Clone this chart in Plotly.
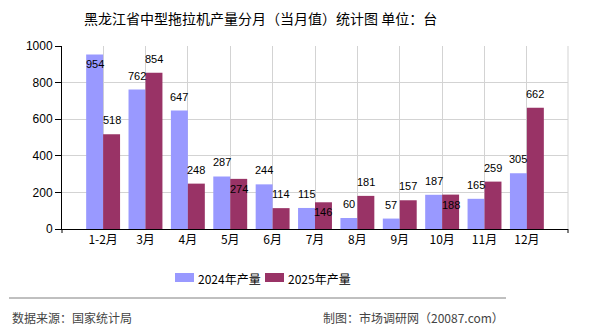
import plotly.graph_objects as go

categories = ["1-2月", "3月", "4月", "5月", "6月", "7月", "8月", "9月", "10月", "11月", "12月"]
values_2024 = [954, 762, 647, 287, 244, 115, 60, 57, 187, 165, 305]
values_2025 = [518, 854, 248, 274, 114, 146, 181, 157, 188, 259, 662]
series_names = ["2024年产量", "2025年产量"]
y_ticks = [0, 200, 400, 600, 800, 1000]
# labels that are drawn just inside the bar top (collision avoidance in the original)
inside_2024 = [True, False, False, False, False, False, False, False, False, False, False]
inside_2025 = [False, False, False, True, False, True, False, False, True, False, False]

C24 = "#9999FF"
C25 = "#993366"
W, H = 590, 330
L, R, T, B = 62, 568, 46, 229
FONT = "Liberation Sans, Noto Sans CJK SC, sans-serif"
CJK = "Noto Sans CJK SC, sans-serif"


def px(x):
    return (x - L) / (R - L)


def py(y):
    return (B - y) / (B - T)


fig = go.Figure()
fig.add_trace(go.Bar(x=categories, y=values_2024, name=series_names[0], marker_color=C24,
                     marker_line_width=0, showlegend=False))
fig.add_trace(go.Bar(x=categories, y=values_2025, name=series_names[1], marker_color=C25,
                     marker_line_width=0, showlegend=False))

annotations = []
for vals, inside, off in ((values_2024, inside_2024, -0.2), (values_2025, inside_2025, 0.2)):
    for i, v in enumerate(vals):
        annotations.append(dict(
            x=i + off, y=v, xref="x", yref="y", text=str(v), showarrow=False,
            font=dict(family=FONT, size=11, color="#000000"),
            yanchor="top" if inside[i] else "bottom",
            yshift=-2 if inside[i] else 6,
        ))

# title
annotations.append(dict(x=px(260), y=py(18), xref="paper", yref="paper",
                        text="黑龙江省中型拖拉机产量分月（当月值）统计图 单位：台",
                        showarrow=False, font=dict(family=CJK, size=14, color="#000000"),
                        xanchor="center", yanchor="middle"))
# legend (manual)
shapes = []
for sx, col, name in ((175, C24, series_names[0]), (265, C25, series_names[1])):
    shapes.append(dict(type="rect", xref="paper", yref="paper", x0=px(sx), x1=px(sx + 19),
                       y0=py(273), y1=py(282), fillcolor=col, line_width=0))
    annotations.append(dict(x=px(sx + 21), y=py(278), xref="paper", yref="paper", text=name,
                            showarrow=False, font=dict(family=CJK, size=12, color="#000000"),
                            xanchor="left", yanchor="middle"))
# footer
shapes.append(dict(type="line", xref="paper", yref="paper", x0=px(9), x1=px(506),
                   y0=py(298), y1=py(298), line=dict(color="#808080", width=1)))
annotations.append(dict(x=px(10), y=py(317), xref="paper", yref="paper", text="数据来源：国家统计局",
                        showarrow=False, font=dict(family=CJK, size=12, color="#444444"),
                        xanchor="left", yanchor="middle"))
annotations.append(dict(x=px(506), y=py(317), xref="paper", yref="paper",
                        text="制图：市场调研网（20087.com）",
                        showarrow=False, font=dict(family=CJK, size=12, color="#444444"),
                        xanchor="right", yanchor="middle"))
# right border of plot area
shapes.append(dict(type="line", xref="paper", yref="paper", x0=1, x1=1, y0=0, y1=1,
                   line=dict(color="#d3d3d3", width=1)))
# end ticks on the x axis
for xe in (0, 1):
    shapes.append(dict(type="line", xref="paper", yref="paper", x0=xe, x1=xe, y0=0, y1=py(233),
                       line=dict(color="#000000", width=1)))

fig.update_layout(
    width=W, height=H,
    margin=dict(l=L, r=W - R, t=T, b=H - B),
    paper_bgcolor="white", plot_bgcolor="white",
    barmode="group", bargap=0.2, bargroupgap=0,
    annotations=annotations, shapes=shapes,
    xaxis=dict(type="category", range=[-0.97, 10.97], showgrid=True, gridcolor="#d3d3d3",
               showline=True, linecolor="#000000", linewidth=1, ticks="",
               tickfont=dict(family=CJK, size=12, color="#000000"), fixedrange=True),
    yaxis=dict(range=[0, 1000], tickvals=y_ticks, showgrid=True, gridcolor="#d3d3d3",
               showline=True, linecolor="#000000", linewidth=1, ticks="outside", ticklen=6,
               tickcolor="#000000", tickfont=dict(family=FONT, size=12, color="#000000"),
               zeroline=False, fixedrange=True),
)

fig.write_html("out.html")
